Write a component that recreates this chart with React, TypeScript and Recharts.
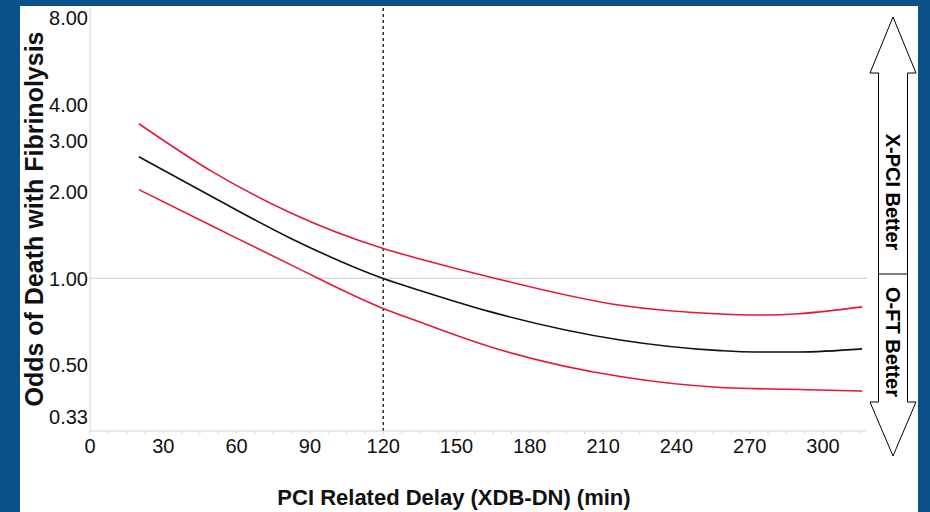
import {
  LineChart,
  Line,
  XAxis,
  YAxis,
  ReferenceLine,
} from "recharts";

// PCI-related delay (min) where the curves were read
const delay = [20, 50, 82, 120, 135, 164, 217, 258, 272, 290, 316];
// odds of death with fibrinolysis (point estimate and 95% CI)
const oddsRatio = [2.643, 1.919, 1.379, 1.0, 0.909, 0.766, 0.612, 0.562, 0.556, 0.556, 0.57];
const upperCI = [3.439, 2.346, 1.689, 1.27, 1.169, 1.01, 0.808, 0.753, 0.747, 0.755, 0.797];
const lowerCI = [2.032, 1.52, 1.117, 0.787, 0.706, 0.579, 0.457, 0.419, 0.415, 0.412, 0.407];

const yTicks = [0.33, 0.5, 1, 2, 3, 4, 8];
const xTicks = Array.from({ length: 43 }, (_, i) => i * 7.5);

const data = delay.map((d, i) => ({
  delay: d,
  odds: oddsRatio[i],
  upper: upperCI[i],
  lower: lowerCI[i],
}));

const FONT = "'Liberation Sans', Arial, Helvetica, sans-serif";
const BLUE = "#0b5189";
const RED = "#e5183c";
const GRID = "#d6d6d6";

function BetterArrow() {
  const pts = [
    [893, 17], [916, 73], [907.5, 73], [907.5, 402], [916, 402],
    [893, 456], [870, 402], [878.5, 402], [878.5, 73], [870, 73],
  ]
    .map((p) => p.join(","))
    .join(" ");
  return (
    <svg
      width={930}
      height={512}
      style={{ position: "absolute", left: 0, top: 0, pointerEvents: "none" }}
    >
      <polygon points={pts} fill="#fff" stroke="#000" strokeWidth={1} />
      <line x1={878.5} x2={907.5} y1={274} y2={274} stroke="#000" strokeWidth={1} />
      <text
        transform="translate(893,192) rotate(90)"
        textAnchor="middle"
        dominantBaseline="central"
        fontFamily={FONT}
        fontWeight="bold"
        fontSize={20}
        fill="#000"
      >
        X-PCI Better
      </text>
      <text
        transform="translate(893,342) rotate(90)"
        textAnchor="middle"
        dominantBaseline="central"
        fontFamily={FONT}
        fontWeight="bold"
        fontSize={20}
        fill="#000"
      >
        O-FT Better
      </text>
    </svg>
  );
}

export default function App() {
  return (
    <div
      style={{
        position: "absolute",
        left: 0,
        top: 0,
        width: 930,
        height: 512,
        background: BLUE,
        fontFamily: FONT,
      }}
    >
      <div
        style={{
          position: "absolute",
          left: 20,
          top: 6,
          width: 898,
          height: 506,
          background: "#fff",
        }}
      >
        <LineChart
          width={898}
          height={506}
          data={data}
          margin={{ top: 2, right: 51, bottom: 0, left: 0 }}
        >
          <XAxis
            type="number"
            dataKey="delay"
            domain={[0, 318]}
            ticks={xTicks}
            interval={0}
            allowDataOverflow
            height={81}
            stroke={GRID}
            tickSize={3}
            tickMargin={5}
            tickFormatter={(v: number) => (v % 30 === 0 ? String(v) : "")}
            tick={{ fontSize: 20, fill: "#111", fontFamily: FONT }}
            label={{
              content: () => (
                <text
                  x={434}
                  y={499}
                  textAnchor="middle"
                  fontFamily={FONT}
                  fontWeight="bold"
                  fontSize={22}
                  fill="#111"
                >
                  PCI Related Delay (XDB-DN) (min)
                </text>
              ),
            }}
          />
          <YAxis
            scale="log"
            domain={[0.296, 8.66]}
            allowDataOverflow
            ticks={yTicks}
            interval={0}
            width={70}
            stroke={GRID}
            tickLine={false}
            tickSize={0}
            tickMargin={2}
            tickFormatter={(v: number) => v.toFixed(2)}
            tick={{ fontSize: 20, fill: "#111", fontFamily: FONT }}
            label={{
              content: () => (
                <text
                  transform="translate(14,213) rotate(-90)"
                  textAnchor="middle"
                  dominantBaseline="central"
                  fontFamily={FONT}
                  fontWeight="bold"
                  fontSize={25}
                  fill="#111"
                >
                  Odds of Death with Fibrinolysis
                </text>
              ),
            }}
          />
          <ReferenceLine y={1} stroke={GRID} strokeWidth={1.2} />
          <ReferenceLine x={120} stroke="#111" strokeDasharray="3 3" strokeWidth={1.3} />
          <Line
            type="monotone"
            dataKey="upper"
            stroke={RED}
            strokeWidth={1.6}
            dot={false}
            isAnimationActive={false}
          />
          <Line
            type="monotone"
            dataKey="odds"
            stroke="#111"
            strokeWidth={1.6}
            dot={false}
            isAnimationActive={false}
          />
          <Line
            type="monotone"
            dataKey="lower"
            stroke={RED}
            strokeWidth={1.6}
            dot={false}
            isAnimationActive={false}
          />
        </LineChart>
      </div>
      <BetterArrow />
    </div>
  );
}
